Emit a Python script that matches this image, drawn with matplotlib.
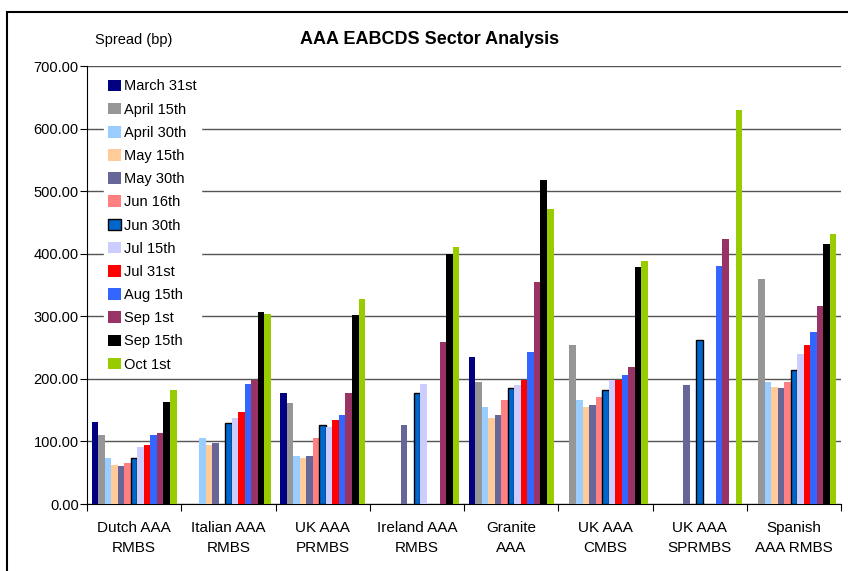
#!/usr/bin/env python3
# AAA EABCDS sector spreads, grouped bars by observation date

import matplotlib.pyplot as plt
import numpy as np

plt.rcParams["font.family"] = ["Liberation Sans", "DejaVu Sans"]

sectors = [
    "Dutch AAA\nRMBS",
    "Italian AAA\nRMBS",
    "UK AAA\nPRMBS",
    "Ireland AAA\nRMBS",
    "Granite\nAAA",
    "UK AAA\nCMBS",
    "UK AAA\nSPRMBS",
    "Spanish\nAAA RMBS",
]

dates = [
    "March 31st", "April 15th", "April 30th", "May 15th", "May 30th",
    "Jun 16th", "Jun 30th", "Jul 15th", "Jul 31st", "Aug 15th",
    "Sep 1st", "Sep 15th", "Oct 1st",
]

# spread (bp) per date, one value per sector; 0 = no quote
mar31 = [131, 0, 177, 0, 235, 0, 0, 0]
apr15 = [110, 0, 161, 0, 195, 254, 0, 359]
apr30 = [73, 105, 77, 0, 155, 166, 0, 195]
may15 = [62, 94, 74, 0, 137, 155, 0, 187]
may30 = [61, 97, 77, 126, 142, 158, 190, 185]
jun16 = [65, 0, 105, 0, 166, 171, 0, 195]
jun30 = [74, 129, 127, 177, 185, 182, 262, 214]
jul15 = [91, 137, 123, 192, 190, 198, 0, 240]
jul31 = [94, 147, 134, 0, 198, 198, 0, 254]
aug15 = [110, 192, 142, 0, 243, 206, 380, 275]
sep01 = [113, 198, 177, 259, 355, 219, 423, 316]
sep15 = [163, 307, 302, 399, 518, 379, 0, 415]
oct01 = [182, 304, 327, 410, 471, 388, 629, 431]

series = [mar31, apr15, apr30, may15, may30, jun16, jun30,
          jul15, jul31, aug15, sep01, sep15, oct01]

colors = [
    "#000080", "#969696", "#99CCFF", "#FFCC99", "#666699",
    "#FF8080", "#0066CC", "#CCCCFF", "#FF0000", "#3366FF",
    "#993366", "#000000", "#99CC00",
]

fig = plt.figure(figsize=(8.48, 5.71), dpi=100)
ax = fig.add_axes([87 / 848, 67 / 571, 754 / 848, 438 / 571])

# outer chart border
fig.patches.append(plt.Rectangle((7 / 848, -0.1), 1.2, (571 - 12) / 571 + 0.1,
                                 transform=fig.transFigure, fill=False,
                                 edgecolor="black", linewidth=1.5))

x = np.arange(len(sectors))
n = len(series)
w = 0.9 / n
for i, (vals, c, lab) in enumerate(zip(series, colors, dates)):
    pos = x - 0.45 + w * (i + 0.5)
    if lab == "Jun 30th":
        ax.bar(pos, vals, w, color=c, edgecolor="black", linewidth=1.0,
               label=lab, zorder=3)
    else:
        ax.bar(pos, vals, w, color=c, linewidth=0, label=lab, zorder=3)

ax.set_xlim(-0.5, len(sectors) - 0.5)
ax.set_ylim(0, 700)
ax.set_yticks(np.arange(0, 701, 100))
ax.set_yticklabels([f"{v:.2f}" for v in range(0, 701, 100)], fontsize=10.5)
ax.yaxis.grid(True, color="#555555", linewidth=1.0, zorder=0)

ax.set_xticks(np.arange(-0.5, len(sectors), 1.0))
ax.set_xticklabels([])
ax.set_xticks(x, minor=True)
ax.set_xticklabels(sectors, minor=True, fontsize=11, linespacing=1.55)
ax.tick_params(axis="x", which="major", length=5, direction="out")
ax.tick_params(axis="x", which="minor", length=0, pad=12)
ax.tick_params(axis="y", length=5, direction="out", pad=1)

for side in ["top", "right"]:
    ax.spines[side].set_visible(False)

leg = ax.legend(loc="upper left", bbox_to_anchor=(0.013, 0.996), fontsize=10.5,
                handlelength=0.85, handleheight=0.85, handletextpad=0.2,
                labelspacing=0.63, borderpad=0.3, frameon=True,
                fancybox=False, framealpha=1)
leg.get_frame().set_edgecolor("white")
leg.set_zorder(5)

fig.text(95 / 848, 1 - 40 / 571, "Spread (bp)", fontsize=10.5, va="center")
fig.text(430 / 848, 1 - 40 / 571, "AAA EABCDS Sector Analysis",
         fontsize=13, fontweight="bold", ha="center", va="center")

fig.savefig("out.png", dpi=100)
